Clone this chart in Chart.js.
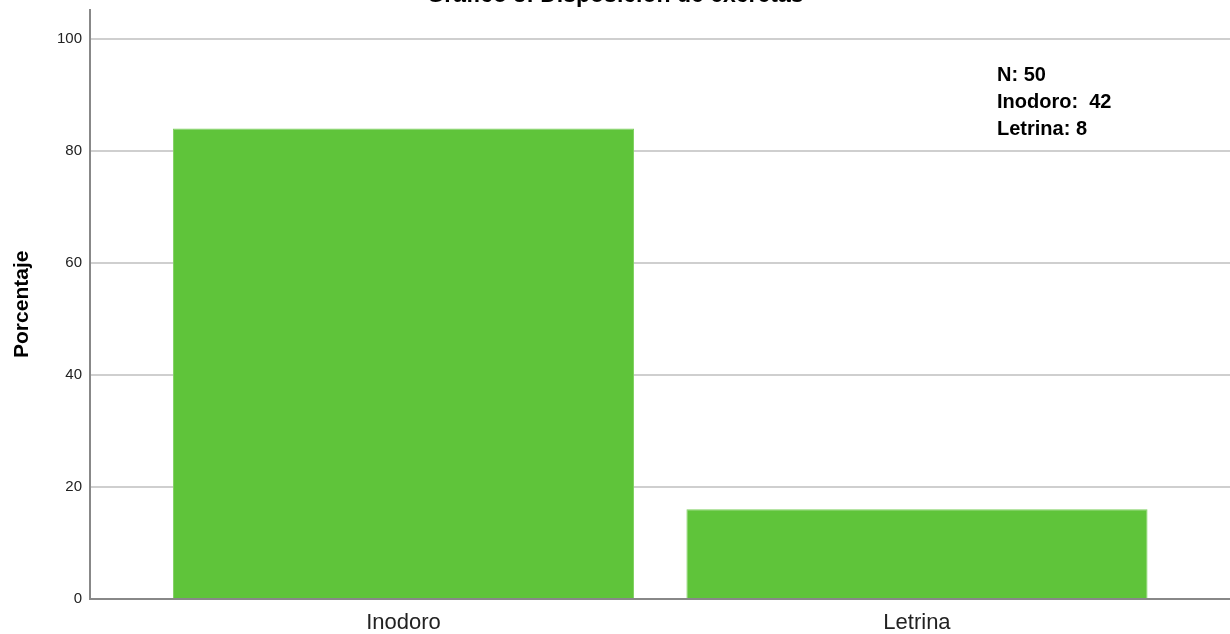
<!DOCTYPE html>
<html>
<head>
<meta charset="utf-8">
<script src="https://cdn.jsdelivr.net/npm/chart.js@4.4.0/dist/chart.umd.min.js"></script>
<style>
  html, body { margin: 0; padding: 0; background: #fff; overflow: hidden; }
  #marco { width: 1230px; height: 634px; overflow: hidden; position: relative; }
  #marco canvas { position: absolute; left: 0; top: -30px; }
</style>
</head>
<body>
<div id="marco"><canvas id="grafico" width="1230" height="664"></canvas></div>
<script>
const titulo = "Gráfico 8: Disposición de excretas"
const categorias = ["Inodoro", "Letrina"]
const porcentajes = [84, 16]
const ticksY = [0, 20, 40, 60, 80, 100]
const notas = ["N: 50", "Inodoro:  42", "Letrina: 8"]

// cuadro de texto arriba a la derecha
const notasPlugin = {
  id: "notas",
  afterDraw(chart) {
    const ctx = chart.ctx
    ctx.save()
    ctx.fillStyle = "#000"
    ctx.font = "bold 20px 'Liberation Sans', Arial, sans-serif"
    ctx.textBaseline = "alphabetic"
    notas.forEach((t, i) => {
      ctx.fillText(t, 997, 111 + i * 27)
    })
    ctx.restore()
  }
}

const puntos = porcentajes.map((v, i) => ({ x: i, y: v }))

new Chart(document.getElementById("grafico"), {
  type: "bar",
  data: {
    datasets: [
      {
        label: "Porcentaje",
        data: puntos,
        backgroundColor: "#5fc43a",
        borderColor: "#7fd060",
        borderWidth: 1,
        categoryPercentage: 1,
        barPercentage: 0.898,
      },
    ],
  },
  options: {
    responsive: false,
    animation: false,
    layout: { padding: 0 },
    plugins: {
      legend: { display: false },
      tooltip: { enabled: false },
      title: {
        display: true,
        text: titulo,
        color: "#000",
        font: { family: "'Liberation Sans', Arial", size: 23, weight: "bold" },
        padding: { top: 12, bottom: 0 },
      },
    },
    scales: {
      x: {
        type: "linear",
        offset: false,
        min: -0.6105,
        max: 1.6096,
        afterBuildTicks: (s) => { s.ticks = categorias.map((c, i) => ({ value: i })) },
        afterFit: (s) => { s.height = 35 },
        grid: { display: false, drawTicks: false, offset: false },
        border: { color: "#888", width: 2 },
        ticks: {
          callback: (v) => categorias[v],
          color: "#222",
          padding: 11,
          maxRotation: 0,
          autoSkip: false,
          font: { family: "'Liberation Sans', Arial", size: 22 },
        },
      },
      y: {
        min: 0,
        max: 105.2,
        afterBuildTicks: (s) => { s.ticks = ticksY.map((v) => ({ value: v })) },
        afterFit: (s) => { s.width = 90 },
        grid: { color: "#cfcfcf", lineWidth: 2, drawTicks: false },
        border: { color: "#888", width: 2 },
        ticks: {
          color: "#222",
          padding: 8,
          font: { family: "'Liberation Sans', Arial", size: 15 },
        },
        title: {
          display: true,
          text: "Porcentaje",
          color: "#000",
          font: { family: "'Liberation Sans', Arial", size: 21, weight: "bold" },
          padding: { top: 10, bottom: 0 },
        },
      },
    },
  },
  plugins: [notasPlugin],
})
</script>
</body>
</html>
